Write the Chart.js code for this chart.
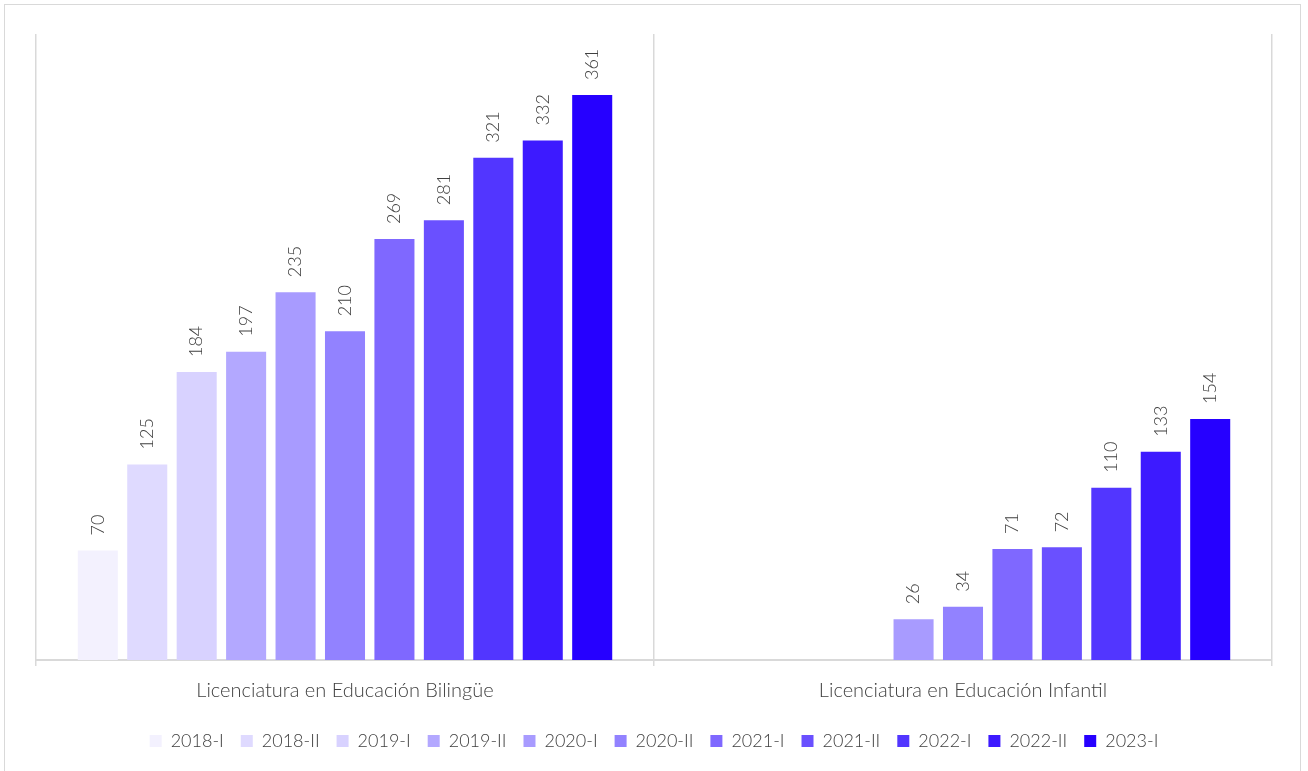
<!DOCTYPE html>
<html>
<head>
<meta charset="utf-8">
<script src="https://cdn.jsdelivr.net/npm/chart.js@4.4.1/dist/chart.umd.min.js"></script>
<style>
  html, body { margin: 0; padding: 0; background: #fff; }
  #frame {
    position: absolute; left: 4px; top: 4px; width: 1297px; height: 800px;
    border: 1.5px solid #d9d9d9; box-sizing: border-box;
  }
  #wrap { position: absolute; left: 0; top: 0; width: 1308px; height: 771px; }
</style>
</head>
<body>
<div id="frame"></div>
<div id="wrap"><canvas id="chart"></canvas></div>
<script>
const CATEGORIES = ["Licenciatura en Educación Bilingüe", "Licenciatura en Educación Infantil"];
const PERIODS = ["2018-I", "2018-II", "2019-I", "2019-II", "2020-I", "2020-II",
                 "2021-I", "2021-II", "2022-I", "2022-II", "2023-I"];
const BILINGUE = [70, 125, 184, 197, 235, 210, 269, 281, 321, 332, 361];
const INFANTIL = [null, null, null, null, 26, 34, 71, 72, 110, 133, 154];
const PERIOD_COLORS = ["#f3f1fe", "#dfdaff", "#d8d2ff", "#b3a8ff", "#a89bff", "#9282ff",
                       "#7f68ff", "#6a50ff", "#5236ff", "#3d1aff", "#2600ff"];

const FONT = "Lato, 'Noto Sans', sans-serif";

// value labels, rotated, above each bar
const barLabels = {
  id: "barLabels",
  afterDatasetsDraw(chart) {
    const { ctx } = chart;
    chart.data.datasets.forEach((ds, i) => {
      const meta = chart.getDatasetMeta(i);
      meta.data.forEach((bar, j) => {
        const v = ds.data[j];
        if (v == null) return;
        ctx.save();
        ctx.translate(bar.x, bar.y - 15);
        ctx.rotate(-Math.PI / 2);
        ctx.font = "300 18px " + FONT;
        ctx.fillStyle = "#404040";
        ctx.textAlign = "left";
        ctx.textBaseline = "middle";
        ctx.fillText(String(v), 0, 0);
        ctx.restore();
      });
    });
  },
};

new Chart(document.getElementById("chart"), {
  type: "bar",
  data: {
    labels: CATEGORIES,
    datasets: PERIODS.map((p, i) => ({
      label: p,
      data: [BILINGUE[i], INFANTIL[i]],
      backgroundColor: PERIOD_COLORS[i],
      borderWidth: 0,
      barPercentage: 0.81,
      categoryPercentage: 0.88,
    })),
  },
  options: {
    responsive: true,
    maintainAspectRatio: false,
    animation: false,
    layout: { padding: { left: 36, right: 36, top: 34, bottom: 11 } },
    plugins: {
      legend: {
        position: "bottom",
        labels: {
          boxWidth: 12,
          boxHeight: 12,
          padding: 17,
          color: "#404040",
          font: { size: 18, family: FONT, weight: "300" },
        },
      },
      tooltip: { enabled: false },
    },
    scales: {
      x: {
        offset: true,
        grid: { offset: true, color: "#d9d9d9", lineWidth: 1.5, tickLength: 6 },
        border: { color: "#d9d9d9", width: 2 },
        ticks: { color: "#404040", padding: 12.5, font: { size: 20, family: FONT, weight: "300" } },
      },
      y: { display: false, min: 0, max: 400 },
    },
  },
  plugins: [barLabels],
});
</script>
</body>
</html>
